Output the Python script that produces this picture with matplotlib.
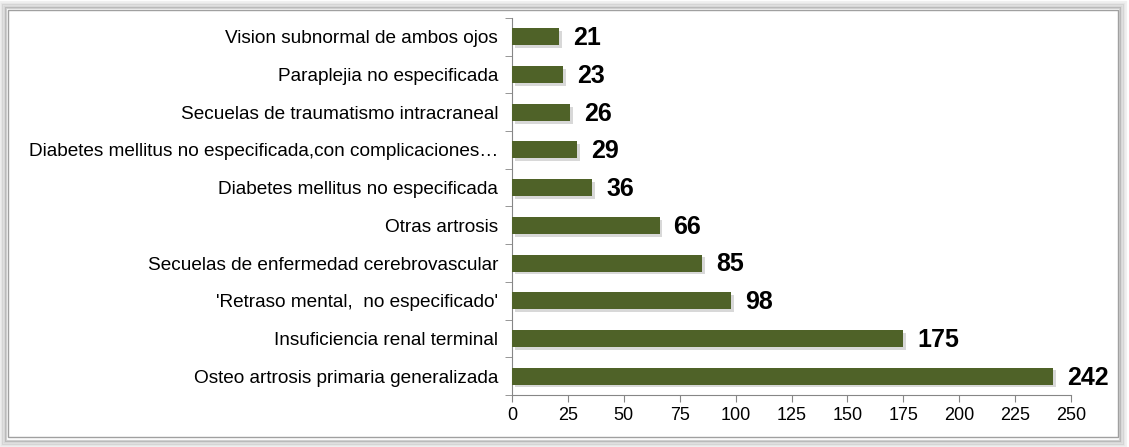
import matplotlib
matplotlib.use("Agg")
import matplotlib.pyplot as plt
import matplotlib.patheffects as pe
from matplotlib.patches import Rectangle
import numpy as np

plt.rcParams["font.family"] = ["Liberation Sans", "DejaVu Sans"]

categories = ["Osteo artrosis primaria generalizada",
              "Insuficiencia renal terminal",
              "'Retraso mental,  no especificado'",
              "Secuelas de enfermedad cerebrovascular",
              "Otras artrosis",
              "Diabetes mellitus no especificada",
              "Diabetes mellitus no especificada,con complicaciones\u2026",
              "Secuelas de traumatismo intracraneal",
              "Paraplejia no especificada",
              "Vision subnormal de ambos ojos"]
values = [242, 175, 98, 85, 66, 36, 29, 26, 23, 21]
xticks = [0, 25, 50, 75, 100, 125, 150, 175, 200, 225, 250]

BAR = "#4F6228"
AX = "#868686"

fig = plt.figure(figsize=(11.29, 4.47), dpi=100)

# outer frame with soft shadow
for i, a in enumerate([0.10, 0.14, 0.18, 0.24, 0.32]):
    d = (5 - i) * 1.6
    fig.patches.append(Rectangle((8 - d, 8 - d), 1110 + 2 * d, 429 + 2 * d,
                                 transform=None, facecolor="none",
                                 edgecolor=(0.45, 0.45, 0.45, a), linewidth=1.6))
fig.patches.append(Rectangle((8, 10), 1110, 427, transform=None,
                             facecolor="white", edgecolor="#A0A0A0", linewidth=1))

ax = fig.add_axes([512 / 1129, 1 - 395 / 447, (1071 - 512) / 1129, (395 - 18) / 447])
ax.set_zorder(5)
y = np.arange(len(categories))
bars = ax.barh(y, values, height=0.45, color=BAR, zorder=3)
for b in bars:
    b.set_path_effects([pe.SimplePatchShadow(offset=(2, -2), alpha=0.25, shadow_rgbFace="#666666"),
                        pe.Normal()])
for yi, v in zip(y, values):
    ax.annotate(str(v), (v, yi), xytext=(10, -1), textcoords="offset points",
                ha="left", va="center", fontsize=18, fontweight="bold")

ax.set_xlim(0, 250)
ax.set_ylim(-0.5, len(categories) - 0.5)
ax.set_xticks(xticks)
ax.set_xticklabels([str(t) for t in xticks], fontsize=13)
ax.set_yticks(y)
ax.set_yticklabels(categories, fontsize=13.7)
ax.set_yticks(np.arange(-0.5, len(categories), 1), minor=True)
ax.tick_params(axis="y", which="major", length=0, pad=10)
ax.tick_params(axis="y", which="minor", length=5, color=AX)
ax.tick_params(axis="x", length=5, color=AX, pad=4)
for s in ["top", "right"]:
    ax.spines[s].set_visible(False)
for s in ["left", "bottom"]:
    ax.spines[s].set_color(AX)
ax.patch.set_alpha(0)

fig.savefig("out.png", dpi=100)
